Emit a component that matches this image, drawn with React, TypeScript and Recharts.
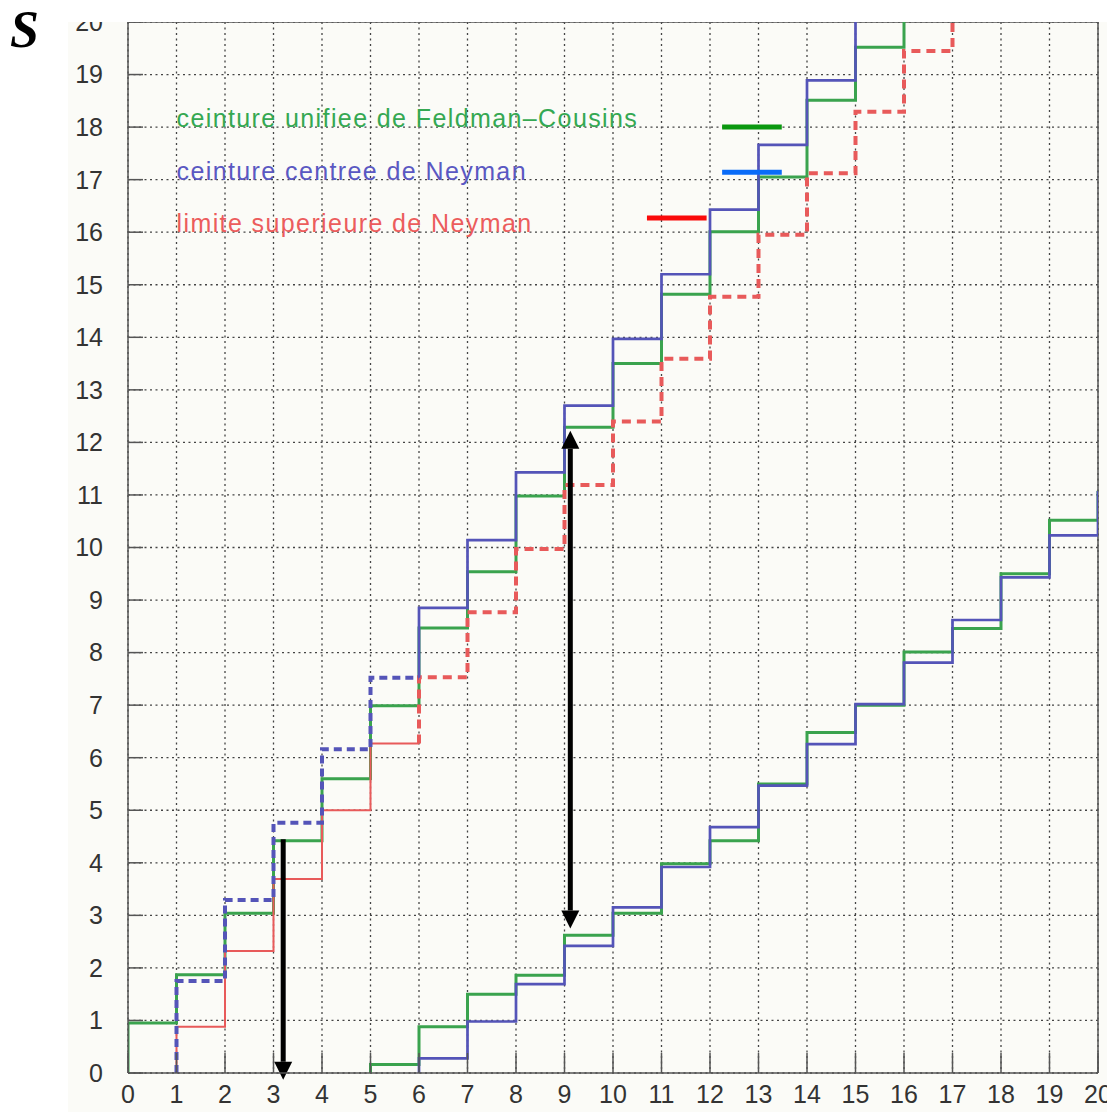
import React from "react";
import { LineChart, Line, XAxis, YAxis, CartesianGrid, ReferenceLine, ReferenceDot } from "recharts";

const ticks = [0, 1, 2, 3, 4, 5, 6, 7, 8, 9, 10, 11, 12, 13, 14, 15, 16, 17, 18, 19, 20];

// ceinture unifiee de Feldman-Cousins (values per n, starting at n0)
const fcUpperN0 = 0;
const fcUpper = [0.95, 1.87, 3.04, 4.42, 5.6, 6.99, 8.47, 9.54, 10.98, 12.29, 13.5, 14.82, 16.01, 17.05, 18.51, 19.52, 20.8];
const fcLowerN0 = 5;
const fcLower = [0.16, 0.88, 1.5, 1.86, 2.62, 3.04, 3.98, 4.42, 5.5, 6.48, 7.0, 8.01, 8.46, 9.5, 10.52, 11.05];

// ceinture centree de Neyman
const nyUpperN0 = 1;
const nyUpper = [1.75, 3.29, 4.76, 6.16, 7.52, 8.85, 10.14, 11.43, 12.7, 13.97, 15.2, 16.43, 17.66, 18.89, 20.3];
const nyLowerN0 = 6;
const nyLower = [0.28, 0.98, 1.69, 2.42, 3.15, 3.92, 4.68, 5.47, 6.26, 7.02, 7.81, 8.62, 9.43, 10.23, 11.05];

// limite superieure de Neyman
const ulN0 = 1;
const ulUpper = [0.88, 2.32, 3.69, 5.0, 6.27, 7.53, 8.77, 9.97, 11.19, 12.4, 13.59, 14.77, 15.95, 17.12, 18.29, 19.45, 20.6];

// n where the flip-flop switches from one style to the other
const flipN = 6;

const legendItems = [
  { label: "ceinture unifiee de Feldman\u2013Cousins", color: "#35a852", y: 18, line: "#0a980f", x1: 12.25, x2: 13.48, ly: 18.0 },
  { label: "ceinture centree de Neyman", color: "#5a58c2", y: 17, line: "#0a6cf8", x1: 12.25, x2: 13.48, ly: 17.14 },
  { label: "limite superieure de Neyman", color: "#ec5c5c", y: 16, line: "#fa0a0a", x1: 10.7, x2: 11.93, ly: 16.27 },
];

const arrowDown = { x: 3.2, from: 4.45, to: -0.13 };
const arrowBoth = { x: 9.12, from: 2.75, to: 12.22 };

type Pt = { x: number; y: number };

// stepAfter points for n in [from, to), starting from height `start`
function stairs(n0: number, vals: number[], from: number, to: number, start: number): Pt[] {
  const pts: Pt[] = [{ x: from, y: start }];
  for (let n = from; n < to; n++) pts.push({ x: n, y: vals[n - n0] });
  pts.push({ x: to, y: vals[to - 1 - n0] });
  return pts;
}

const fcUpperPts = stairs(fcUpperN0, fcUpper, 0, fcUpperN0 + fcUpper.length, 0);
const fcLowerPts = stairs(fcLowerN0, fcLower, fcLowerN0, fcLowerN0 + fcLower.length, 0);
const nyUpperDash = stairs(nyUpperN0, nyUpper, nyUpperN0, flipN, 0);
const nyUpperSolid = stairs(nyUpperN0, nyUpper, flipN, nyUpperN0 + nyUpper.length, nyUpper[flipN - 1 - nyUpperN0]);
const nyLowerPts = stairs(nyLowerN0, nyLower, nyLowerN0, nyLowerN0 + nyLower.length, 0);
const ulSolid = stairs(ulN0, ulUpper, ulN0, flipN, 0);
const ulDash = stairs(ulN0, ulUpper, flipN, ulN0 + ulUpper.length, ulUpper[flipN - 1 - ulN0]);

const GREEN = "#3aa34e";
const BLUE = "#5454b8";
const RED = "#e85a5a";

function ArrowShape(props: any) {
  const { x1, y1, x2, y2, both } = props;
  const head = 18;
  const half = 9;
  const dir = y2 > y1 ? 1 : -1;
  const tipB = y2;
  const baseB = y2 - dir * head;
  const tipA = y1;
  const baseA = y1 + dir * head;
  return (
    <g>
      <line x1={x1} y1={both ? baseA : y1} x2={x2} y2={baseB} stroke="#000" strokeWidth={5} />
      <polygon points={`${x2 - half},${baseB} ${x2 + half},${baseB} ${x2},${tipB}`} fill="#000" />
      {both && <polygon points={`${x1 - half},${baseA} ${x1 + half},${baseA} ${x1},${tipA}`} fill="#000" />}
    </g>
  );
}

function legendText(label: string, color: string) {
  return (props: any) => (
    <text x={props.cx} y={props.cy} fill={color} fontSize={25} fontFamily="Liberation Sans, Arial, sans-serif" letterSpacing={1.4}>
      {label}
    </text>
  );
}

const tickStyle = { fill: "#333", fontSize: 25, fontFamily: "Liberation Sans, Arial, sans-serif" };

export default function App() {
  return (
    <div style={{ position: "absolute", left: 0, top: 0, width: 1107, height: 1112, background: "#fff", overflow: "hidden" }}>
      <div
        style={{
          position: "absolute",
          left: 10,
          top: 0,
          fontFamily: "Liberation Serif, serif",
          fontStyle: "italic",
          fontWeight: "bold",
          fontSize: 52,
          color: "#000",
        }}
      >
        S
      </div>
      <div style={{ position: "absolute", left: 68, top: 22, width: 1039, height: 1090, background: "#fbfbf7" }}>
        <LineChart width={1039} height={1090} margin={{ top: 0, right: 9, left: 0, bottom: 0 }}>
          <CartesianGrid stroke="#444" strokeDasharray="2 3.5" strokeWidth={1.3} />
          <XAxis
            type="number"
            dataKey="x"
            domain={[0, 20]}
            ticks={ticks}
            interval={0}
            allowDataOverflow
            height={39}
            tick={tickStyle}
            tickSize={-20}
            tickMargin={32}
            axisLine={{ stroke: "#555", strokeWidth: 1.5 }}
            tickLine={{ stroke: "#555", strokeWidth: 1.5 }}
          />
          <YAxis
            type="number"
            domain={[0, 20]}
            ticks={ticks}
            interval={0}
            allowDataOverflow
            width={60}
            tick={tickStyle}
            tickSize={-15}
            tickMargin={40}
            axisLine={{ stroke: "#555", strokeWidth: 1.5 }}
            tickLine={{ stroke: "#555", strokeWidth: 1.5 }}
          />
          <ReferenceLine y={20} stroke="#555" strokeWidth={1.5} />
          <ReferenceLine x={20} stroke="#555" strokeWidth={1.5} />

          <Line data={fcUpperPts} dataKey="y" type="stepAfter" stroke={GREEN} strokeWidth={3} dot={false} activeDot={false} isAnimationActive={false} />
          <Line data={fcLowerPts} dataKey="y" type="stepAfter" stroke={GREEN} strokeWidth={3} dot={false} activeDot={false} isAnimationActive={false} />
          <Line data={ulSolid} dataKey="y" type="stepAfter" stroke={RED} strokeWidth={2} dot={false} activeDot={false} isAnimationActive={false} />
          <Line data={ulDash} dataKey="y" type="stepAfter" stroke={RED} strokeWidth={4} strokeDasharray="9 6" dot={false} activeDot={false} isAnimationActive={false} />
          <Line data={nyUpperDash} dataKey="y" type="stepAfter" stroke={BLUE} strokeWidth={4} strokeDasharray="8 5" dot={false} activeDot={false} isAnimationActive={false} />
          <Line data={nyUpperSolid} dataKey="y" type="stepAfter" stroke={BLUE} strokeWidth={2.7} dot={false} activeDot={false} isAnimationActive={false} />
          <Line data={nyLowerPts} dataKey="y" type="stepAfter" stroke={BLUE} strokeWidth={2.7} dot={false} activeDot={false} isAnimationActive={false} />

          {legendItems.map((it) => (
            <ReferenceDot key={it.label} x={1} y={it.y} r={0} shape={legendText(it.label, it.color)} />
          ))}
          {legendItems.map((it) => (
            <ReferenceLine
              key={it.label + "-line"}
              segment={[{ x: it.x1, y: it.ly }, { x: it.x2, y: it.ly }]}
              stroke={it.line}
              strokeWidth={5}
            />
          ))}

          <ReferenceLine
            segment={[{ x: arrowDown.x, y: arrowDown.from }, { x: arrowDown.x, y: arrowDown.to }]}
            ifOverflow="visible"
            shape={(p: any) => <ArrowShape {...p} />}
          />
          <ReferenceLine
            segment={[{ x: arrowBoth.x, y: arrowBoth.from }, { x: arrowBoth.x, y: arrowBoth.to }]}
            ifOverflow="visible"
            shape={(p: any) => <ArrowShape {...p} both />}
          />
        </LineChart>
      </div>
    </div>
  );
}
